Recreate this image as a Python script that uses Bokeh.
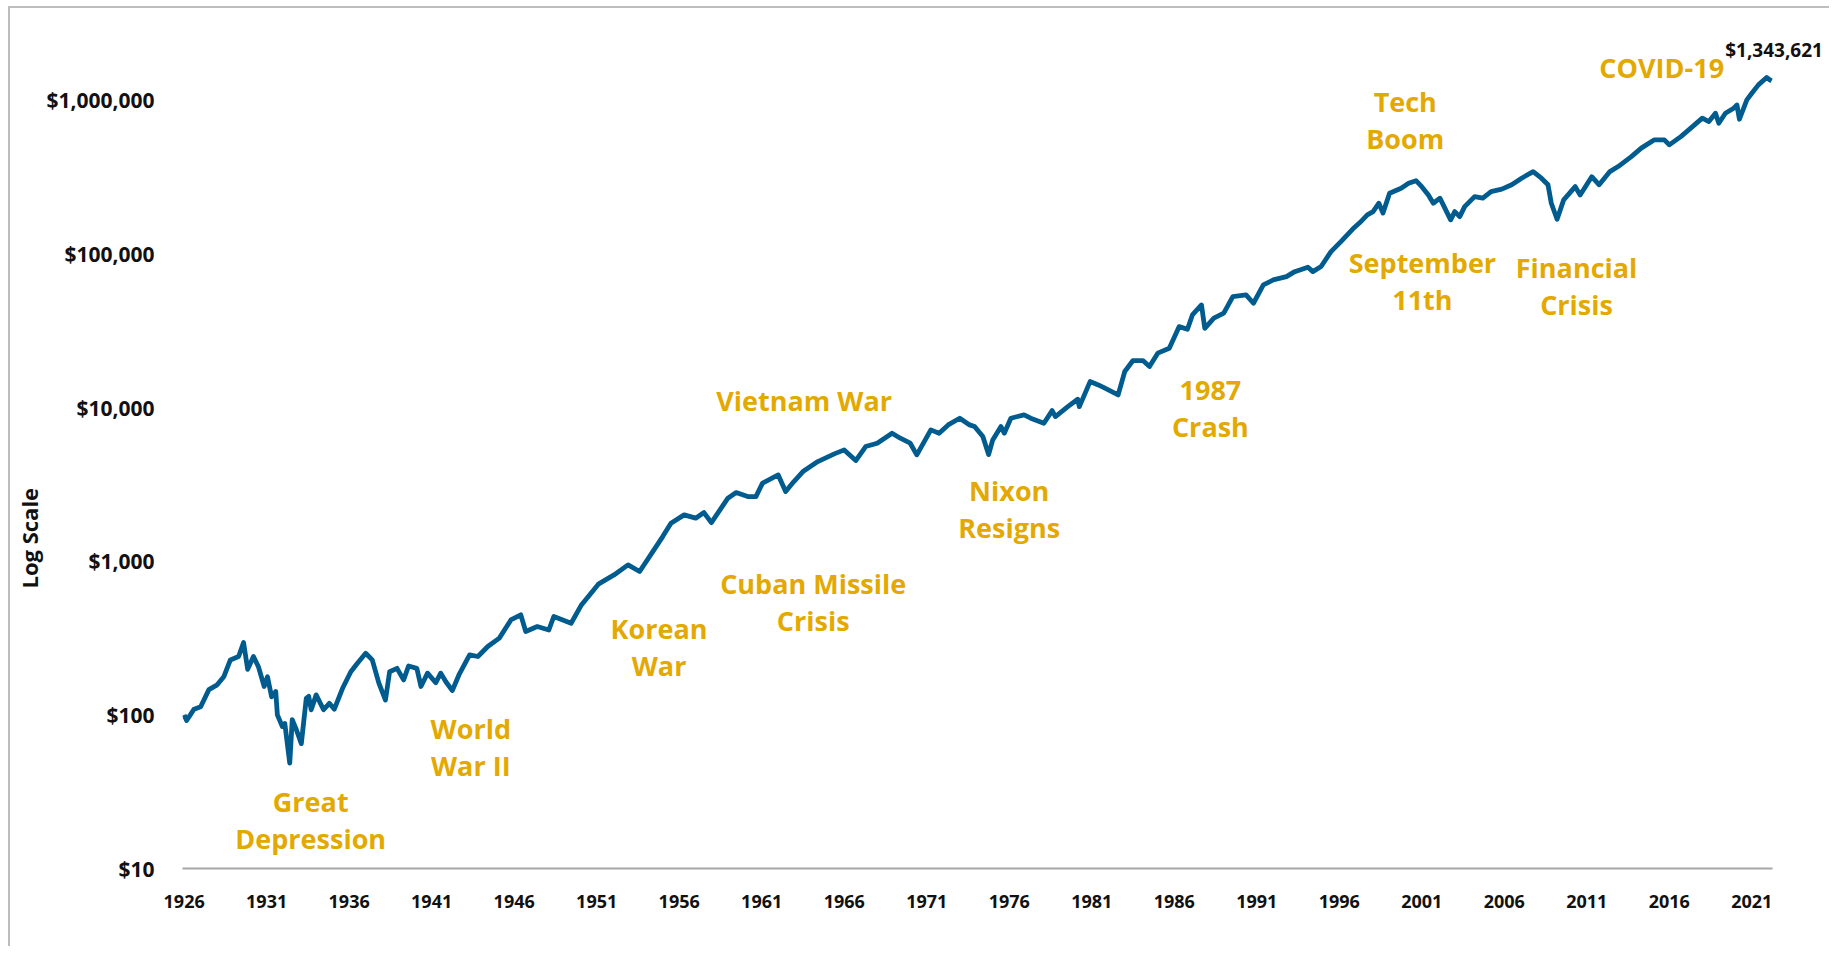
from bokeh.plotting import figure
from bokeh.models import Range1d, FixedTicker, ColumnDataSource, Label, Title
from bokeh.core.properties import value
from bokeh.embed import file_html
from bokeh.resources import INLINE

# ---------------- data ----------------
years = [
    1926.0, 1926.15, 1926.6, 1927.0, 1927.5, 1928.0, 1928.4, 1928.8, 1929.3, 1929.6,
    1929.85, 1930.2, 1930.5, 1930.85, 1931.05, 1931.3, 1931.55, 1931.65, 1931.95, 1932.1,
    1932.4, 1932.55, 1932.8, 1933.1, 1933.4, 1933.55, 1933.7, 1934.0, 1934.45, 1934.8,
    1935.1, 1935.6, 1936.1, 1936.5, 1937.0, 1937.4, 1937.8, 1938.2, 1938.45, 1938.9,
    1939.3, 1939.6, 1940.1, 1940.35, 1940.75, 1941.25, 1941.55, 1941.85, 1942.25, 1942.65,
    1943.3, 1943.8, 1944.4, 1945.1, 1945.8, 1946.4, 1946.7, 1947.4, 1948.1, 1948.4,
    1949.45, 1950.05, 1951.1, 1952.05, 1952.9, 1953.6, 1954.4, 1955.0, 1955.5, 1956.3,
    1957.0, 1957.5, 1957.95, 1958.95, 1959.45, 1960.15, 1960.65, 1961.05, 1962.0, 1962.45,
    1962.95, 1963.5, 1964.4, 1965.4, 1966.0, 1966.7, 1967.3, 1968.0, 1968.9, 1969.4,
    1970.0, 1970.4, 1971.25, 1971.75, 1972.3, 1973.0, 1973.6, 1973.9, 1974.4, 1974.75,
    1975.0, 1975.5, 1975.7, 1976.1, 1976.9, 1977.3, 1978.1, 1978.6, 1978.8, 1979.55,
    1980.15, 1980.25, 1980.9, 1981.4, 1981.8, 1982.6, 1983.0, 1983.5, 1984.1, 1984.5,
    1985.0, 1985.7, 1986.3, 1986.8, 1987.1, 1987.65, 1987.85, 1988.4, 1989.0, 1989.55,
    1990.35, 1990.8, 1991.4, 1992.0, 1992.8, 1993.3, 1994.1, 1994.4, 1994.9, 1995.5,
    1996.1, 1996.8, 1997.25, 1997.7, 1998.05, 1998.4, 1998.65, 1999.05, 1999.75, 2000.2,
    2000.65, 2001.0, 2001.4, 2001.7, 2002.1, 2002.75, 2003.0, 2003.3, 2003.6, 2004.2,
    2004.7, 2005.2, 2005.85, 2006.45, 2007.05, 2007.75, 2008.25, 2008.65, 2008.85, 2009.2,
    2009.6, 2010.3, 2010.6, 2011.3, 2011.75, 2012.4, 2012.9, 2013.7, 2014.3, 2015.1,
    2015.7, 2016.0, 2016.7, 2017.3, 2018.0, 2018.4, 2018.8, 2019.0, 2019.4, 2019.9,
    2020.1, 2020.25, 2020.7, 2021.0, 2021.4, 2021.9, 2022.1, 2022.2,
]
growth = [
    100, 92, 109, 113, 146, 157, 177, 228, 240, 296,
    198, 240, 206, 153, 177, 131, 142, 100, 84, 88,
    48.5, 93, 80, 65, 128, 132, 108, 135, 108, 119,
    109, 149, 191, 217, 252, 228, 161, 125, 191, 201,
    169, 208, 201, 153, 187, 162, 187, 165, 144, 182,
    246, 240, 279, 316, 415, 448, 349, 376, 357, 437,
    395, 515, 710, 815, 948, 858, 1156, 1449, 1771, 2006,
    1909, 2076, 1786, 2576, 2801, 2638, 2638, 3226, 3650, 2845,
    3304, 3838, 4460, 5004, 5312, 4528, 5585, 5871, 6823, 6328,
    5871, 4932, 7173, 6823, 7727, 8543, 7727, 7537, 6486, 4950,
    6166, 7537, 6823, 8543, 8985, 8543, 7925, 9575, 8755, 10160,
    11350, 10160, 14790, 14070, 13390, 12110, 17190, 20270, 20270, 18530,
    22650, 24400, 33730, 32430, 40180, 46660, 32890, 38270, 41230, 52850,
    54200, 47860, 62960, 67880, 71290, 76860, 82160, 76860, 83010, 103800,
    120600, 145000, 160400, 179900, 189100, 214400, 185000, 249000, 268500, 289300,
    300700, 274800, 242700, 214400, 231200, 167100, 189100, 175400, 203700, 236600,
    231200, 255300, 264800, 282500, 311900, 344400, 311900, 282500, 214400, 168700,
    225400, 274800, 242700, 319200, 282500, 344400, 371500, 431400, 489500, 554700,
    554700, 514300, 582100, 660600, 767400, 729500, 826000, 711200, 826000, 891300,
    935000, 755100, 1010000, 1115000, 1264000, 1410000, 1361000, 1343621,
]

x_tick_years = [1926, 1931, 1936, 1941, 1946, 1951, 1956, 1961, 1966, 1971,
                1976, 1981, 1986, 1991, 1996, 2001, 2006, 2011, 2016, 2021]
y_tick_values = [10, 100, 1000, 10000, 100000, 1000000]
y_tick_labels = ["$10", "$100", "$1,000", "$10,000", "$100,000", "$1,000,000"]

events = ["Great\nDepression", "World\nWar II", "Korean\nWar", "Vietnam War",
          "Cuban Missile\nCrisis", "Nixon\nResigns", "1987\nCrash", "Tech\nBoom",
          "September\n11th", "Financial\nCrisis", "COVID-19"]
final_label = "$1,343,621"
y_title = "Log Scale"

# ---------------- label placement (layout, not data) ----------------
event_x = [1933.67, 1943.37, 1954.78, 1963.57, 1964.12, 1976.0, 1988.19, 2000.0,
           2001.04, 2010.38, 2015.54]
event_y = [20.6, 61.9, 275, 11070, 545, 2178, 9890, 748000, 66400, 61700, 1630000]

BLUE = "#005b8e"
GOLD = "#e3a900"
INK = "#111111"
FONT = "Open Sans"

X0, X1 = 1925.9, 2022.25          # extent of the drawn x axis
p = figure(width=1821, height=940, y_axis_type="log",
           x_range=Range1d(X0, 2025.83), y_range=Range1d(10, 10 ** 6.5208),
           output_backend="svg", toolbar_location=None,
           min_border_left=172, min_border_right=0, min_border_top=12,
           min_border_bottom=80)
p.styles = {"border-left": "2px solid #bdbdbd", "border-top": "2px solid #bdbdbd",
            "margin-left": "8px", "margin-top": "6px"}
p.outline_line_color = None
p.xgrid.grid_line_color = None
p.ygrid.grid_line_color = None

p.line(years, growth, line_color=BLUE, line_width=4.8, line_join="round")

src = ColumnDataSource(dict(x=event_x, y=event_y, t=events))
p.text(x="x", y="y", text="t", source=src, text_color=GOLD,
       text_font=value(FONT), text_font_style="bold", text_font_size="27px",
       text_align="center", text_baseline="middle", text_line_height=1.0)

p.add_layout(Label(x=years[-1] + 0.15, y=growth[-1] * 1.58, text=final_label,
                   text_color=INK, text_font=FONT, text_font_style="bold",
                   text_font_size="19px", text_align="center", text_baseline="middle"))

p.add_layout(Title(text=y_title, align="left", offset=280, standoff=0,
                   text_color=INK, text_font=FONT, text_font_style="bold",
                   text_font_size="22px"), "left")

# x axis
xa = p.xaxis[0]
xa.ticker = FixedTicker(ticks=x_tick_years)
xa.bounds = (X0, X1)
xa.axis_line_color = "#a6a6a6"
xa.axis_line_width = 2
xa.major_tick_line_color = None
xa.minor_tick_line_color = None
xa.major_label_standoff = 20
xa.major_label_text_font = FONT
xa.major_label_text_font_style = "bold"
xa.major_label_text_font_size = "18px"
xa.major_label_text_color = INK

# y axis
ya = p.yaxis[0]
ya.ticker = FixedTicker(ticks=y_tick_values)
ya.major_label_overrides = {v: s for v, s in zip(y_tick_values, y_tick_labels)}
ya.axis_line_color = None
ya.major_tick_line_color = None
ya.minor_tick_line_color = None
ya.major_label_standoff = 22
ya.major_label_text_font = FONT
ya.major_label_text_font_style = "bold"
ya.major_label_text_font_size = "21px"
ya.major_label_text_color = INK

open("out.html", "w").write(file_html(p, INLINE))
